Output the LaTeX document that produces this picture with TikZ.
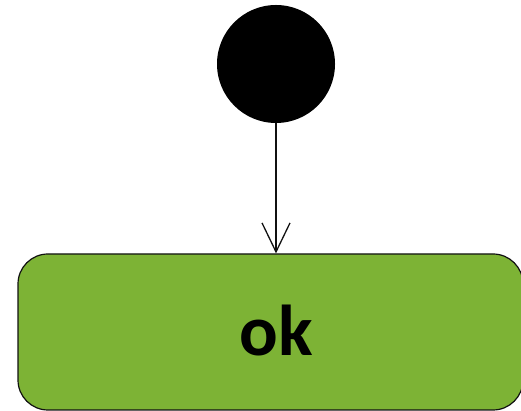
\documentclass[tikz,border=0pt]{standalone}
\usepackage{fontspec}
\setsansfont{Carlito}
\usetikzlibrary{arrows.meta,positioning}
\definecolor{ink}{HTML}{111111}
\definecolor{okgreen}{HTML}{7DB335}
\begin{document}
\begin{tikzpicture}[
  x=1pt, y=1pt,
  start/.style={circle, fill=black, minimum size=118pt, inner sep=0pt},
  state/.style={rectangle, rounded corners=30pt, draw=ink, line width=1.2pt, fill=okgreen, minimum width=505pt, minimum height=156pt, font=\sffamily\bfseries\fontsize{72}{76}\selectfont},
  arrow/.style={-{Straight Barb[length=29pt,width=28pt]}, line width=1.3pt, draw=ink}
]
\useasboundingbox (0,0) rectangle (521,411);
\node[start] (init) at (276,347) {};
\node[state] (ok)   at (270.5,79) {\raisebox{3pt}{\hspace*{11pt}ok}};

\draw[arrow] (init.south) -- (init.south |- ok.north);
\end{tikzpicture}
\end{document}
